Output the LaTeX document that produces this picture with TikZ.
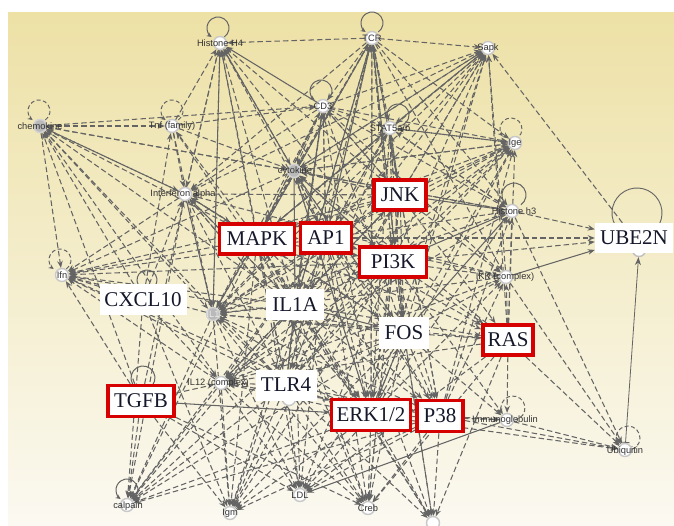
\documentclass[tikz,border=0pt]{standalone}
\usepackage{fontspec}
\setmainfont{Liberation Serif}
\newfontfamily\smallsans{Liberation Sans}
\usetikzlibrary{arrows.meta}
\pgfdeclarelayer{bgl}
\pgfdeclarelayer{edgel}
\pgfsetlayers{bgl,edgel,main}
\definecolor{edgegray}{HTML}{646464}
\definecolor{boxred}{HTML}{D60000}
\definecolor{ytop}{HTML}{EDE1A6}
\definecolor{ymid}{HTML}{F3EBC6}
\definecolor{ybot}{HTML}{FBF9F1}
\definecolor{txtdark}{HTML}{15182A}
\definecolor{ringgray}{HTML}{C8C8C8}
\newcommand\fan[3][ed]{\foreach \t in {#3} {\draw[#1] (#2) -- (\t);}}
\newcommand\lpath[7]{\draw[#7] ([shift={(#2,#3)}]#1.center) ++(#4:#5pt) arc[start angle=#4, delta angle=#6, radius=#5pt];}
\begin{document}
\begin{tikzpicture}[x=1pt,y=1pt,
  mol/.style={circle, draw=ringgray, line width=1.4pt, fill=white, inner sep=0pt, minimum size=13pt},
  molg/.style={mol, fill=gray!55, draw=gray!35},
  mlab/.style={font=\smallsans\fontsize{9.3}{9.3}\selectfont, text=black!80, inner sep=0pt},
  hubred/.style={draw=boxred, line width=3.5pt, fill=white, minimum height=30pt, inner sep=0pt, font=\fontsize{21}{21}\selectfont, text=txtdark},
  plainlab/.style={fill=white, minimum height=31pt, inner sep=0pt, font=\fontsize{21}{21}\selectfont, text=txtdark},
  ed/.style={draw=edgegray, line width=1.05pt, dash pattern=on 5.5pt off 3pt, -{Stealth[length=7pt,width=5.5pt]}},
  es/.style={draw=edgegray, line width=1.05pt, -{Stealth[length=7pt,width=5.5pt]}},
  lpd/.style={draw=edgegray, line width=1pt, dash pattern=on 4pt off 2.5pt, -{Stealth[length=5pt,width=4.5pt]}},
  lps/.style={draw=edgegray, line width=1pt, -{Stealth[length=5pt,width=4.5pt]}}
]
\useasboundingbox (0,0) rectangle (674,525);
\begin{pgfonlayer}{bgl}
\fill[white] (0,0) rectangle (674,525);
\shade[top color=ytop, middle color=ymid, bottom color=ybot] (8,0) rectangle (674,512);
\end{pgfonlayer}

% molecules
\node[mol] (h4) at (220,482) {};
\node[mol] (tcr) at (372,487) {};
\node[mol] (sapk) at (488,477) {};
\node[mol] (cd3) at (323,419) {};
\node[molg] (chemo) at (40,399) {};
\node[mol] (tnf) at (172,399) {};
\node[mol] (stat) at (390,397) {};
\node[mol] (ige) at (515,382) {};
\node[molg] (cyto) at (294,354) {};
\node[mol] (ifna) at (185,331) {};
\node[mol] (h3) at (512,314) {};
\node[mol] (ifn) at (62,250) {};
\node[molg] (il1) at (213,211) {};
\node[mol] (ikk) at (506,248) {};
\node[mol] (il12) at (221,142) {};
\node[mol] (immuno) at (507,105) {};
\node[mol] (ubq) at (625,75) {};
\node[mol] (calp) at (127,20) {};
\node[mol] (igm) at (230,12) {};
\node[mol] (ldl) at (300,30) {};
\node[mol] (creb) at (368,17) {};
\node[mol] (bot) at (433,2) {};
\node[mol] (tlrn) at (289,126) {};
\node[mol, draw=gray!50] (uben) at (639,275) {};

% molecule labels
\node[mlab] (h4t) at (220,482) {Histone H4};
\node[mlab] (tcrt) at (372,487) {TCR};
\node[mlab] (sapkt) at (488,477) {Sapk};
\node[mlab] (cd3t) at (323,419) {CD3};
\node[mlab] (chemot) at (40,399) {chemokine};
\node[mlab] (tnft) at (172,399) {Tnf (family)};
\node[mlab] (statt) at (390,397) {STAT5a/b};
\node[mlab] (iget) at (515,382) {Ige};
\node[mlab] (cytot) at (295,354) {cytokine};
\node[mlab] (ifnat) at (183,331) {Interferon alpha};
\node[mlab] (h3t) at (514,314) {Histone h3};
\node[mlab] (ifnt) at (62,250) {Ifn};
\node[mlab, text=white!85!gray] (il1t) at (213,211) {IL1};
\node[mlab] (ikkt) at (505,248) {IKK (complex)};
\node[mlab] (il12t) at (218,142) {IL12 (complex)};
\node[mlab] (immunot) at (505,105) {Immunoglobulin};
\node[mlab] (ubqt) at (625,74) {Ubiquitin};
\node[mlab] (calpt) at (128,19) {calpain};
\node[mlab] (igmt) at (230,12) {Igm};
\node[mlab] (ldlt) at (300,30) {LDL};
\node[mlab] (crebt) at (368,17) {Creb};

% label boxes
\node[hubred, minimum width=52pt] (jnk) at (400,330) {JNK};
\node[hubred, minimum width=75pt] (mapk) at (257,286) {MAPK};
\node[hubred, minimum width=51pt] (ap1) at (326,287) {AP1};
\node[hubred, minimum width=67pt] (pi3k) at (393,263) {PI3K};
\node[plainlab, minimum width=58pt] (il1a) at (295,220) {IL1A};
\node[plainlab, minimum width=50pt] (fos) at (404,192) {FOS};
\node[hubred, minimum width=50pt] (ras) at (508,185) {RAS};
\node[plainlab, minimum width=61pt] (tlr4) at (286,140) {TLR4};
\node[hubred, minimum width=79pt, minimum height=31pt] (erk) at (371,110) {ERK1/2};
\node[hubred, minimum width=46pt, minimum height=31pt] (p38) at (440,109) {P38};
\node[plainlab, minimum width=78pt, minimum height=30pt] (ube2n) at (634,287) {UBE2N};
\node[plainlab, minimum width=87pt] (cxcl10) at (143,225) {CXCL10};
\node[hubred, minimum width=66pt, minimum height=31pt] (tgfb) at (141,124) {TGFB};

\begin{pgfonlayer}{edgel}
% dashed connectors
\fan{chemo}{tnf,cd3,cyto,ifna,il1,il12,ifn}
\fan{tnf}{cd3,h4,cyto,ifna,il1}
\fan{tcr}{h4,sapk,cd3,stat,cyto,ige,h3,ikk,il1,ifna}
\fan{cd3}{sapk,ige,h3,ikk,stat,cyto,il1,ifna}
\fan{stat}{sapk,ige,h3,cyto,il1}
\fan{cyto}{sapk,ige,ifn,chemo,h3}
\fan{ifna}{h4,ifn,chemo,calp}
\fan{jnk}{h4,tcr,sapk,ige,ifn,igm,creb,ikk,cd3,cyto,stat,ifna}
\fan{mapk}{h4,tcr,sapk,ige,ifn,calp,igm,ldl,creb,bot,chemo,tnf,cd3,stat,ifna,il1}
\fan{ap1}{h4,tcr,sapk,ige,h3,ifn,calp,igm,ldl,creb,bot,cd3,ikk,ube2n,cyto,stat}
\fan{pi3k}{tcr,sapk,ige,ifn,calp,igm,ldl,creb,bot,ikk,immuno,h4,ube2n,cyto}
\fan{il1a}{h4,tcr,sapk,ige,ifn,calp,igm,ldl,creb,bot,chemo,tnf,cd3,ifna,il12}
\fan{fos}{tcr,sapk,ige,ifn,calp,igm,ldl,creb,bot,ikk,immuno,cyto,il12}
\fan{ras}{h3,ikk,immuno,ubq,sapk,ige,creb,bot,il12,ldl}
\fan{tlr4}{h4,tcr,ige,ifn,calp,igm,ldl,creb,bot,chemo,cd3,sapk}
\fan{erk}{sapk,ige,h3,ifn,calp,igm,ldl,creb,bot,immuno,ikk,ubq,il12,tcr}
\fan{p38}{ige,h3,igm,ldl,creb,bot,immuno,ubq,ikk,calp}
\fan{tgfb}{ifn,calp,igm,ldl,creb,il12,chemo,ifna}
\fan{cxcl10}{ifn,calp,igm,chemo,tnf,ifna,il12}
\fan{il1}{ifn,calp,igm,ldl,h4,cyto,creb}
\fan{il12}{ifn,calp,igm,ldl,creb}
\fan{ikk}{ubq,sapk}
\fan{h3}{ube2n,ubq}
\fan{immuno}{ubq}
\fan{ube2n}{sapk}
% hub to hub
\fan{jnk}{mapk,ap1,pi3k,fos,erk,p38,ras,il1a,tlr4,il12,il1}
\fan{mapk}{pi3k,il1a,fos,erk,p38,tlr4,ras}
\fan{ap1}{pi3k,fos,erk,p38,tlr4,il1,il12,ras}
\fan{pi3k}{il1a,fos,erk,tlr4,il1,il12,ras,p38}
\fan{il1a}{erk,p38,ras,il12,il1}
\fan{fos}{tlr4,erk,p38,il1,ras}
\fan{tlr4}{erk,p38,il12,il1}
\fan{stat}{jnk,ap1,pi3k,fos,erk,tlr4,il1a}
\fan{cd3}{mapk,ap1,jnk,fos,erk}
\fan{tcr}{mapk,ap1,pi3k,jnk,fos,p38,erk}
\fan{cyto}{mapk,ap1,fos,erk,pi3k,jnk}
\fan{ifna}{mapk,il1a,tlr4,erk}
% into the inner molecules
\fan{h4}{cyto,ifna,il1}
\fan{sapk}{cyto,stat,il1,ifna}
\fan{ige}{cyto,il1,il12,stat}
\fan{h3}{cyto,il1,stat,il12}
\fan{ikk}{il1,il12,ifna}
\fan{ras}{il1,cyto}
\fan{erk}{cyto,ifna,il1}
\fan{p38}{il12,il1,cyto}
\fan{fos}{ifna,stat}
% solid connectors
\fan[es]{cd3}{h4}
\fan[es]{cyto}{h4,il1a}
\fan[es]{il1a}{fos,jnk}
\fan[es]{mapk}{ap1}
\fan[es]{jnk}{h3}
\fan[es]{pi3k}{h3}
\fan[es]{ikk}{ube2n}
\fan[es]{tgfb}{erk}
\fan[es]{immuno}{ldl}
\fan[es]{tcr}{il1a}
\fan[es]{ifna}{il1}
\fan[es]{fos}{h3}
\fan[es]{erk}{fos}
\fan[es]{tlr4}{il1a}
\fan[es]{stat}{mapk}
\fan[es]{cd3}{il1a}
\draw[draw=edgegray, line width=0.8pt, {Bar[width=8pt]}-{Stealth[length=8pt,width=6pt]}] (ubq) -- (uben);
% self loops
\lpath{h4}{-2}{15}{305}{11}{290}{lps}
\lpath{tcr}{0}{15}{305}{11}{290}{lps}
\lpath{cd3}{-2}{15}{305}{11}{290}{lps}
\lpath{chemo}{-1}{15}{305}{11}{290}{lpd}
\lpath{tnf}{0}{15}{305}{11}{290}{lpd}
\lpath{stat}{8}{13}{273}{11}{290}{lps}
\lpath{ige}{-4}{14}{291}{11}{290}{lpd}
\lpath{h3}{2}{16}{305}{12}{290}{lps}
\lpath{ifn}{-2}{15}{305}{11}{290}{lpd}
\lpath{immuno}{6}{12}{278}{12}{290}{lpd}
\lpath{ubq}{3}{12}{291}{12}{290}{lpd}
\lpath{calp}{0}{15}{305}{11}{290}{lps}
\lpath{cxcl10}{4}{20}{300}{10}{300}{lps}
\lpath{tgfb}{2}{23}{300}{12}{300}{lps}
\draw[draw=edgegray, line width=0.9pt] ([shift={(3,25)}]ube2n.center) ++(300:25pt) arc[start angle=300, delta angle=300, radius=25pt];
\end{pgfonlayer}
\end{tikzpicture}
\end{document}
